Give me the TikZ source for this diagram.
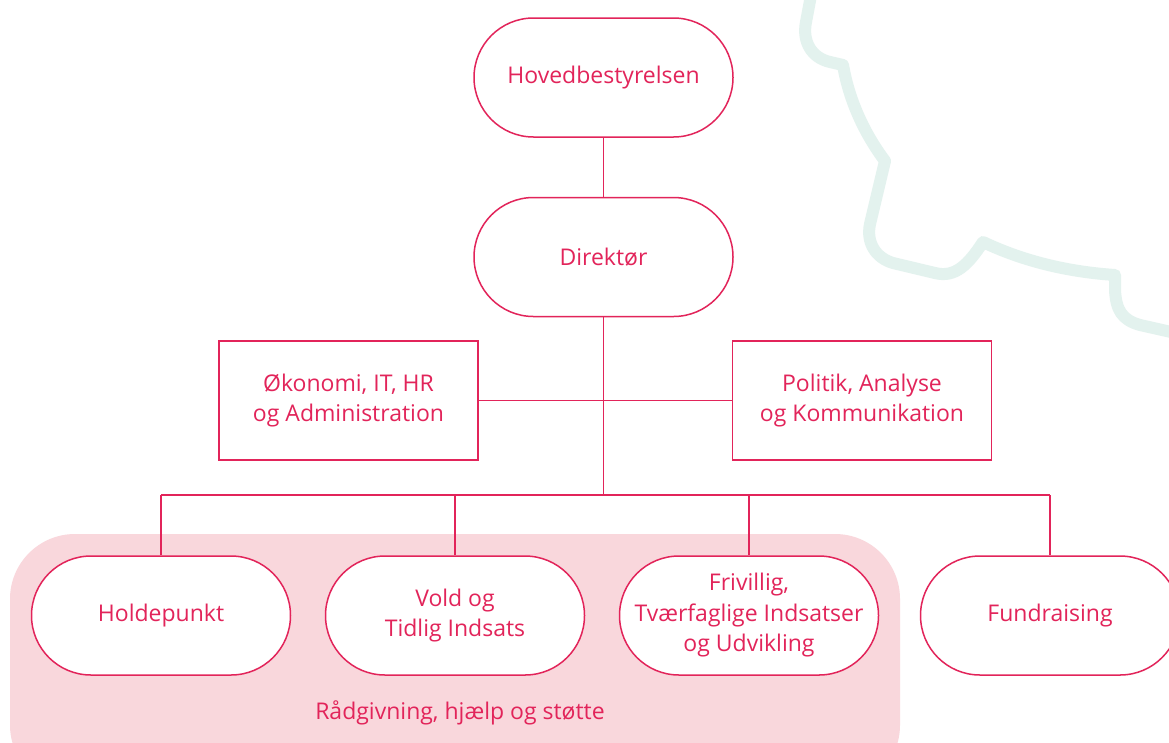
\documentclass[tikz,border=0pt]{standalone}
\usepackage{fontspec}
\setmainfont{Open Sans}
\definecolor{crim}{HTML}{E2245A}
\definecolor{pinkbg}{HTML}{F9D7DC}
\definecolor{mint}{HTML}{E3F2EE}
\begin{document}
\begin{tikzpicture}[x=1pt,y=-1pt,
  every node/.style={font=\fontsize{23}{30.5}\selectfont, text=crim, align=center},
  pill/.style={draw=crim, line width=1.5pt, fill=white, minimum width=259pt, minimum height=119pt, rounded corners=59.5pt, inner sep=0pt},
  boxnode/.style={draw=crim, line width=1.5pt, fill=white, minimum width=259pt, minimum height=119pt, inner sep=0pt},
  conn/.style={draw=crim, line width=1.5pt}]
\useasboundingbox (0,0) rectangle (1169,742);
\clip (0,0) rectangle (1169,742);
\fill[white] (0,0) rectangle (1169,742);
% mint decorative line
\draw[mint, line width=12pt, line cap=round, line join=round]
  (812,-10) -- (806,22) .. controls (802,42) and (812,58) .. (830,62) -- (843,65)
  .. controls (849,100) and (864,133) .. (885,161) -- (870,224)
  .. controls (866,243) and (876,258) .. (893,263) -- (935,273)
  .. controls (955,278) and (968,265) .. (983,242)
  .. controls (1025,262) and (1070,272) .. (1115,275) -- (1115,290)
  .. controls (1116,310) and (1122,320) .. (1140,325) -- (1180,334);
% pink group background
\fill[pinkbg, rounded corners=65pt] (10,534) rectangle (900,790);
\node (grp) at (460,713) {Rådgivning, hjælp og støtte};
% nodes
\node[pill] (hb) at (603.5,77.5) {Hovedbestyrelsen};
\node[pill] (dir) at (603.5,257) {Direktør};
\node[boxnode] (oko) at (348.5,400.5) {Økonomi, IT, HR\\og Administration};
\node[boxnode] (pol) at (862,400.5) {Politik, Analyse\\og Kommunikation};
\node[pill] (hol) at (161,615.5) {Holdepunkt};
\node[pill] (vol) at (455,615.5) {Vold og\\Tidlig Indsats};
\node[pill] (fri) at (749,615.5) {Frivillig,\\Tværfaglige Indsatser\\og Udvikling};
\node[pill] (fun) at (1050,615.5) {Fundraising};
\coordinate (bus) at (603.5,495);
% connectors
\draw[conn] (hb.south) -- (dir.north);
\draw[conn] (dir.south) -- (bus);
\draw[conn] (oko.east) -- (pol.west);
\draw[conn] (hol.north |- bus) -- (fun.north |- bus);
\draw[conn] (hol.north |- bus) -- (hol.north);
\draw[conn] (vol.north |- bus) -- (vol.north);
\draw[conn] (fri.north |- bus) -- (fri.north);
\draw[conn] (fun.north |- bus) -- (fun.north);
\end{tikzpicture}
\end{document}
